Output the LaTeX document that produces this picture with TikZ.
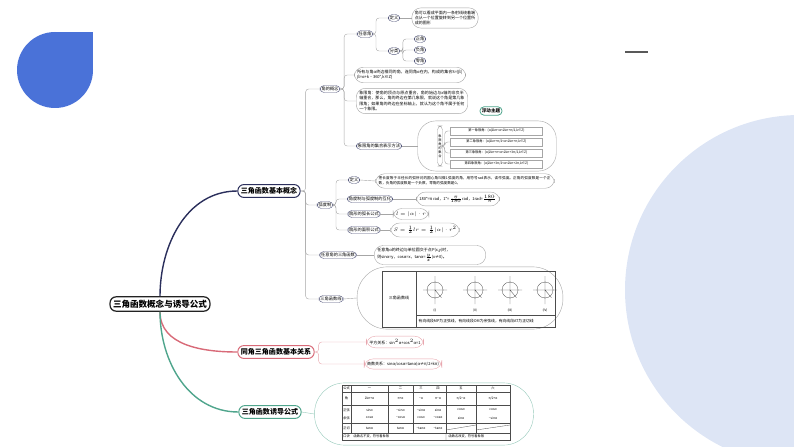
\documentclass[tikz,border=0pt]{standalone}
\usepackage{fontspec}
\setmainfont{Noto Sans CJK SC}
\XeTeXlinebreaklocale "zh"
\XeTeXlinebreakskip=0pt plus 1pt
\usetikzlibrary{positioning}
\definecolor{navy}{HTML}{2B2F5C}
\definecolor{redb}{HTML}{D86A78}
\definecolor{greenb}{HTML}{4FA58C}
\definecolor{blueblob}{HTML}{4A72D8}
\definecolor{bgblue}{HTML}{DDE5F5}
\definecolor{txt}{HTML}{222222}
\tikzset{
  main/.style={draw=navy,line width=1pt,rounded corners=6pt,font=\fontsize{7}{8}\selectfont\bfseries,inner sep=3pt},
  topic/.style={draw=navy!80,rounded corners=4pt,font=\fontsize{4.2}{5}\selectfont,inner sep=1.5pt,fill=white},
  leaf/.style={draw=gray!70,rounded corners=9pt,font=\fontsize{4}{5.2}\selectfont,inner sep=3pt,align=left,fill=white},
  link/.style={draw=gray!70,line width=0.4pt,rounded corners=3pt},
  tiny/.style={font=\fontsize{3.2}{4}\selectfont,inner sep=0.5pt}
}
\begin{document}
\begin{tikzpicture}[x=0.035cm,y=-0.035cm]
\useasboundingbox (0,0) rectangle (794,447);
% background
\fill[bgblue] (800,290) circle (175);
\fill[blueblob] (55,70) circle (38);
\fill[blueblob] (55,32) rectangle (93,70);
\draw[gray!70!black,line width=1.2pt] (625,52) -- (648,52);

% main topics
\node[main,draw=txt,line width=1.2pt,font=\fontsize{8.5}{9}\selectfont\bfseries] (root) at (160,304) {三角函数概念与诱导公式};
\node[main] (basic) at (269,191) {三角函数基本概念};
\node[main,draw=redb] (same) at (276,352) {同角三角函数基本关系};
\node[main,draw=greenb] (induce) at (270,412) {三角函数诱导公式};
\draw[navy,line width=1.4pt] (root.north) to[out=90,in=180] (basic.west);
\draw[redb,line width=1.4pt] (root.south) to[out=-90,in=180] (same.west);
\draw[greenb,line width=1.4pt] (root.south) to[out=-90,in=180] (induce.west);

% level 2
\node[topic] (concept) at (330,89) {角的概念};
\node[topic] (radian) at (325,205) {弧度制};
\node[topic] (anyfn) at (338,255) {任意角的三角函数};
\node[topic] (line) at (331,299) {三角函数线};
\foreach \n in {concept,radian,anyfn,line}
  \draw[link] (basic.east) -- ++(5,0) |- (\n.west);

% concept branch
\node[topic] (anyang) at (365,34) {任意角};
\node[topic] (def) at (394,18) {定义};
\node[leaf,text width=60] (defl) at (445,18) {角可以看成平面内一条射线绕着端点从一个位置旋转到另一个位置所成的图形};
\node[topic] (cls) at (394,51) {分类};
\node[topic] (pos) at (420,39) {正角};
\node[topic] (neg) at (420,50) {负角};
\node[topic] (zero) at (420,61) {零角};
\node[leaf,text width=105] (same1) at (410,75) {所有与角α终边相同的角，连同角α在内，构成的集合S=\{β|β=α+k·360°,k∈Z\}};
\node[leaf,text width=105] (quad) at (412,101) {象限角：使角的顶点与原点重合，角的始边与x轴的非负半轴重合，那么，角的终边在第几象限，就说这个角是第几象限角；如果角的终边在坐标轴上，就认为这个角不属于任何一个象限。};
\node[draw=greenb,line width=0.8pt,rounded corners=4pt,font=\fontsize{4.5}{5}\selectfont\bfseries,inner sep=2pt] (float) at (491,111) {浮动主题};
\node[topic] (qset) at (379,146) {象限角的集合表示方法};
\foreach \n in {anyang,same1,quad,qset}
  \draw[link] (concept.east) -- ++(4,0) |- (\n.west);
\draw[link] (anyang.east) -- ++(3,0) |- (def.west);
\draw[link] (anyang.east) -- ++(3,0) |- (cls.west);
\draw[link] (def.east) -- (defl.west);
\foreach \n in {pos,neg,zero}
  \draw[link] (cls.east) -- ++(3,0) |- (\n.west);
% quadrant set ellipse
\node[leaf,minimum width=138,minimum height=50,rounded corners=18pt] (qbox) at (487,146) {};
\draw[link] (qset.east) -- (qbox.west);
\node[draw=gray!70,rounded corners=4pt,tiny,minimum height=40,text width=4,align=center] (qv) at (440,146) {象限角的集合};
\foreach \i/\t/\f in {1/第一象限角/{\{α|2kπ<α<2kπ+π/2,k∈Z\}},2/第二象限角/{\{α|2kπ+π/2<α<2kπ+π,k∈Z\}},3/第三象限角/{\{α|2kπ+π<α<2kπ+3π/2,k∈Z\}},4/第四象限角/{\{α|2kπ+3π/2<α<2kπ+2π,k∈Z\}}}{
  \node[draw=gray!70,tiny,anchor=west,minimum height=8,minimum width=92] (q\i) at (450,120+11*\i) {\t：\f};
  \draw[link] (qv.east) -- ++(2,0) |- (q\i.west);
}

% radian branch
\node[topic] (rdef) at (354,180) {定义};
\node[leaf,text width=172,font=\fontsize{3.6}{5}\selectfont] (rdefl) at (465,181) {把长度等于半径长的弧所对的圆心角叫做1弧度的角，用符号rad表示，读作弧度。正角的弧度数是一个正数，负角的弧度数是一个负数，零角的弧度数是0。};
\node[topic] (conv) at (370,199) {角度制与弧度制的互化};
\node[leaf] (convl) at (458,199) {180°=π rad，1°=$\frac{\pi}{180}$rad，1rad=$\frac{180°}{\pi}$};
\node[topic] (arc) at (364,214) {扇形的弧长公式};
\node[leaf] (arcl) at (411,214) {$l=|\alpha|\cdot r$};
\node[topic] (area) at (364,230) {扇形的面积公式};
\node[leaf] (areal) at (425,230) {$S=\frac12 lr=\frac12|\alpha|\cdot r^2$};
\foreach \n in {rdef,conv,arc,area}
  \draw[link] (radian.east) -- ++(3,0) |- (\n.west);
\draw[link] (rdef.east) -- (rdefl.west);
\draw[link] (conv.east) -- (convl.west);
\draw[link] (arc.east) -- (arcl.west);
\draw[link] (area.east) -- (areal.west);

% any angle function
\node[leaf,text width=105] (anyl) at (430,255) {任意角α的终边与单位圆交于点P(x,y)时，\\则sinα=y，cosα=x，tanα=$\frac{y}{x}$(x≠0)。};
\draw[link] (anyfn.east) -- (anyl.west);

% trig line table
\node[leaf,minimum width=205,minimum height=62,rounded corners=30pt] (lbox) at (460,298) {};
\draw[link] (line.east) -- (lbox.west);
\draw[gray!60!black,line width=0.3pt] (382,271) rectangle (555,327) (416,271) -- (416,327) (416,315) -- (555,315);
\node[tiny,font=\fontsize{4}{5}\selectfont] (lname) at (399,298) {三角函数线};
\foreach \i/\r/\x in {1/(I)/435,2/(II)/475,3/(III)/510,4/(IV)/545}{
  \draw[gray!60!black,line width=0.3pt] (\x,290) circle (8) (\x-12,290) -- (\x+12,290) (\x,276) -- (\x,304) (\x,290) -- ++(50:10);
  \node[tiny] (r\i) at (\x,310) {\r};
}
\node[tiny,font=\fontsize{3.8}{5}\selectfont,anchor=west] (lnote) at (418,321) {有向线段MP为正弦线，有向线段OM为余弦线，有向线段AT为正切线};

% same angle relations
\node[leaf,draw=redb!60] (sq) at (395,342) {平方关系：sin$^2$α+cos$^2$α=1};
\node[leaf,draw=redb!60] (quot) at (403,364) {商数关系：sinα/cosα=tanα(α≠π/2+kπ)};
\draw[link,draw=redb!60] (same.east) -- ++(4,0) |- (sq.west);
\draw[link,draw=redb!60] (same.east) -- ++(4,0) |- (quot.west);

% induction table
\node[leaf,draw=greenb!60,minimum width=218,minimum height=62,rounded corners=30pt] (ibox) at (424,414) {};
\draw[link,draw=greenb!60] (induce.east) -- (ibox.west);
\begin{scope}[gray!60!black,line width=0.3pt]
\draw (342,385) rectangle (510,440);
\foreach \y in {392,405,423,433} \draw (342,\y) -- (510,\y);
\foreach \x in {351,388,413,446,476} \draw (\x,385) -- (\x,433);
\draw (446,433) -- (446,440) (446,430) -- (476,425) (476,430) -- (510,425);
\end{scope}
\foreach \t/\y in {公式/388.5,角/398.5,正弦/410,余弦/418,正切/428,口诀/436.5}
  \node[tiny] at (346.5,\y) {\t};
\foreach \a/\b/\c/\d/\e/\f/\y in {一/二/三/四/五/六/388.5,2kπ+α/π+α/−α/π−α/{π/2−α}/{π/2+α}/398.5,sinα/−sinα/−sinα/sinα/cosα/cosα/410,cosα/−cosα/cosα/−cosα/sinα/−sinα/418}{
  \node[tiny] at (369.5,\y) {\a}; \node[tiny] at (400.5,\y) {\b};
  \node[tiny] at (421,\y) {\c};   \node[tiny] at (438,\y) {\d};
  \node[tiny] at (461,\y) {\e};   \node[tiny] at (493,\y) {\f};
}
\node[tiny] at (369.5,428) {tanα}; \node[tiny] at (400.5,428) {tanα};
\node[tiny] at (421,428) {−tanα}; \node[tiny] at (438,428) {−tanα};
\node[tiny,anchor=west] at (353,436.5) {函数名不变，符号看象限};
\node[tiny,anchor=west] at (448,436.5) {函数名改变，符号看象限};
\end{tikzpicture}
\end{document}
